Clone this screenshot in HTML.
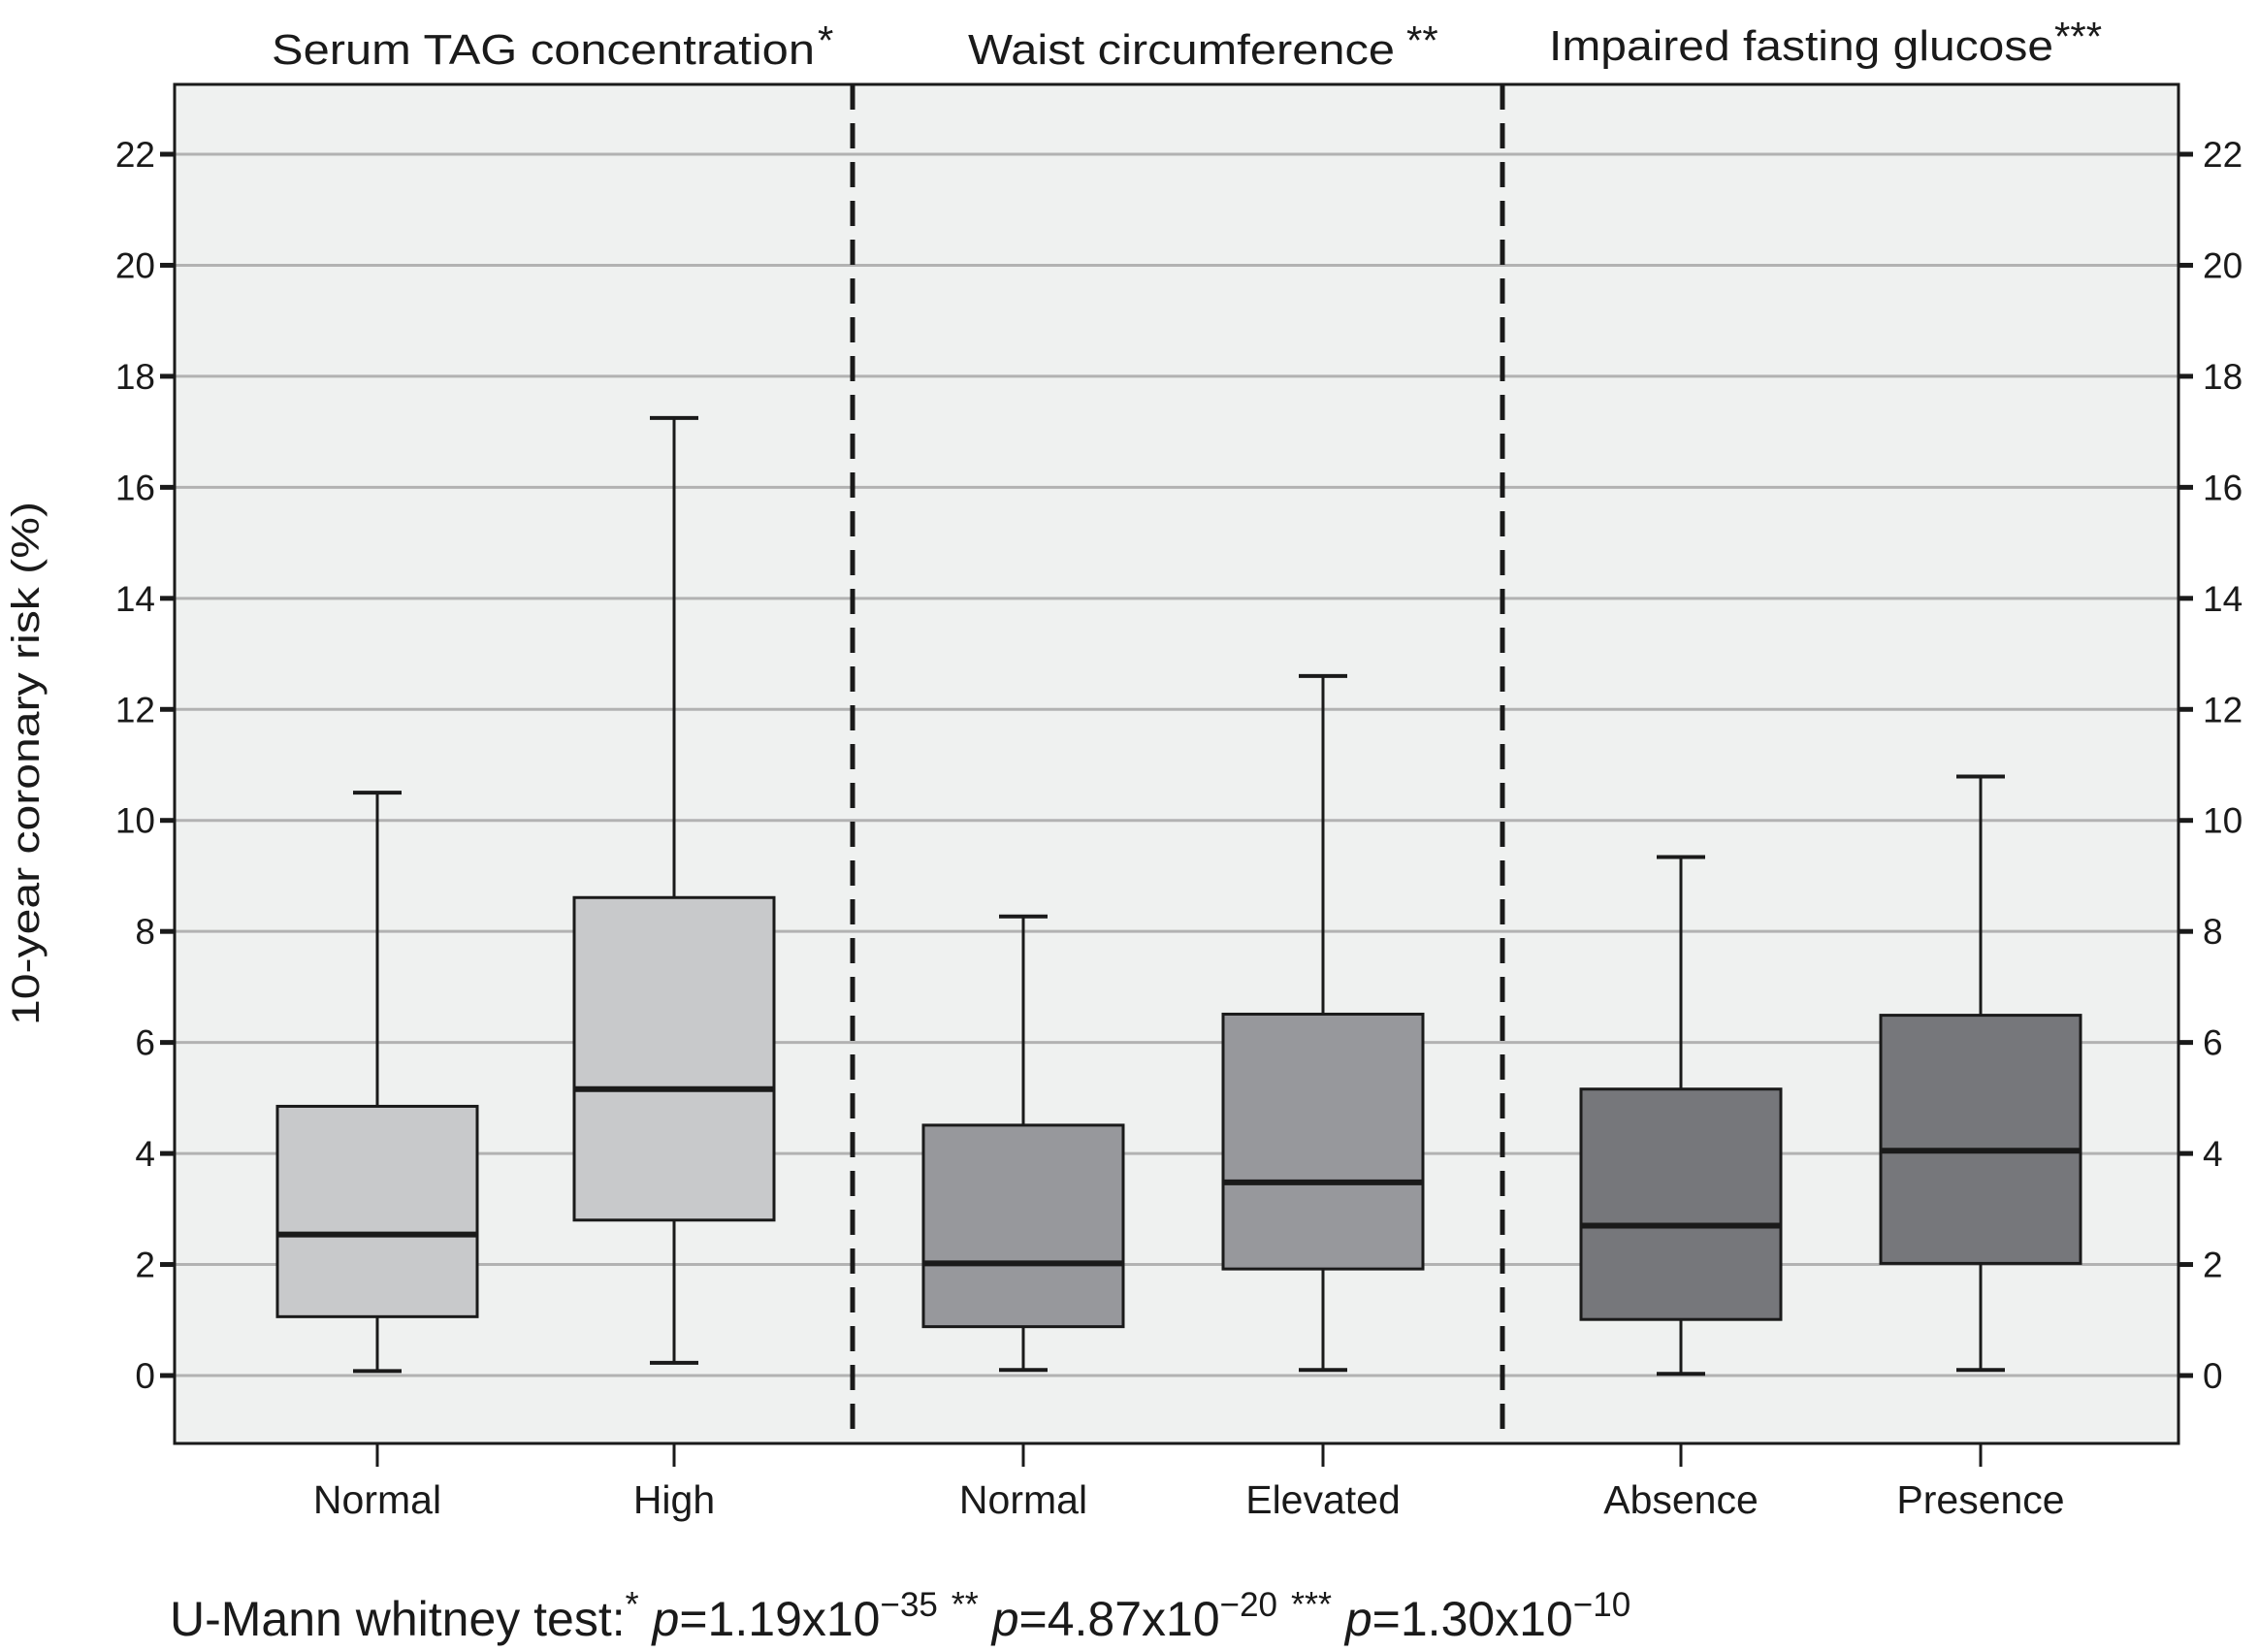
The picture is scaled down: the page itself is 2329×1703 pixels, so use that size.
<!DOCTYPE html>
<html><head><meta charset="utf-8"><style>
html,body{margin:0;padding:0;background:#fff;}
svg{display:block;font-family:"Liberation Sans",Arial,sans-serif;}
</style></head><body>
<svg id="chart" width="2329" height="1703" viewBox="0 0 2329 1703" xmlns="http://www.w3.org/2000/svg">
<rect x="180" y="87" width="2066" height="1401" fill="#eff1f0"/>
<g id="grid"></g>
<g id="boxes"></g>
<g id="axes"></g>
<line x1="879" y1="87" x2="879" y2="1488" stroke="#1a1a1a" stroke-width="5" stroke-dasharray="26,14"/>
<line x1="1549" y1="87" x2="1549" y2="1488" stroke="#1a1a1a" stroke-width="5" stroke-dasharray="26,14"/>
<rect x="180" y="87" width="2066" height="1401" fill="none" stroke="#1a1a1a" stroke-width="3"/>
<text x="280" y="66" font-size="44" fill="#1a1a1a" textLength="560" lengthAdjust="spacingAndGlyphs">Serum TAG concentration</text>
<text x="843" y="56" font-size="42" fill="#1a1a1a">*</text>
<text x="998" y="66" font-size="44" fill="#1a1a1a" textLength="440" lengthAdjust="spacingAndGlyphs">Waist circumference</text>
<text x="1450" y="56" font-size="42" fill="#1a1a1a">**</text>
<text x="1597" y="62" font-size="44" fill="#1a1a1a" textLength="520" lengthAdjust="spacingAndGlyphs">Impaired fasting glucose</text>
<text x="2118" y="52" font-size="42" fill="#1a1a1a">***</text>
<text transform="translate(40,787) rotate(-90)" text-anchor="middle" font-size="40" fill="#1a1a1a" textLength="540" lengthAdjust="spacingAndGlyphs">10-year coronary risk (%)</text>
<text x="175" y="1686" font-size="50" fill="#1a1a1a">U-Mann whitney test:<tspan font-size="36" dy="-20">*</tspan><tspan dy="20" font-style="italic"> p</tspan>=1.19x10<tspan font-size="35" dy="-20">−35</tspan><tspan dy="20"> </tspan><tspan font-size="36" dy="-20">**</tspan><tspan dy="20" font-style="italic"> p</tspan>=4.87x10<tspan font-size="35" dy="-20">−20</tspan><tspan dy="20"> </tspan><tspan font-size="36" dy="-20">***</tspan><tspan dy="20" font-style="italic"> p</tspan>=1.30x10<tspan font-size="35" dy="-20">−10</tspan></text>
</svg>
<script>
const categories = ["Normal","High","Normal","Elevated","Absence","Presence"];
const whiskerMin = [0.08,0.23,0.1,0.1,0.03,0.1];
const q1Values = [1.06,2.8,0.88,1.92,1.01,2.02];
const medianValues = [2.54,5.16,2.02,3.48,2.7,4.05];
const q3Values = [4.85,8.61,4.51,6.51,5.16,6.49];
const whiskerMax = [10.5,17.25,8.27,12.6,9.34,10.79];
const yTicks = [0,2,4,6,8,10,12,14,16,18,20,22];

const NS="http://www.w3.org/2000/svg";
const plotL=180, plotR=2246, y0px=1418, pxPerUnit=(1418-159)/22;
const y = v => y0px - v*pxPerUnit;
const centers=[389,695,1055,1364,1733,2042];
const x = i => centers[i];
const colors=["#c8c9cb","#c8c9cb","#97989c","#97989c","#76777b","#76777b"];
const boxW=206, capW=50;
function mk(tag, attrs, parent){const e=document.createElementNS(NS,tag);for(const k in attrs)e.setAttribute(k,attrs[k]);parent.appendChild(e);return e;}
const grid=document.getElementById('grid'), axes=document.getElementById('axes'), boxes=document.getElementById('boxes');
yTicks.forEach(t=>{
  const g=mk('line',{x1:plotL,x2:plotR,y1:y(t),y2:y(t),stroke:'#b2b2b2','stroke-width':3},grid);
  
  
  const tl=mk('line',{x1:165,x2:180,y1:y(t),y2:y(t),stroke:'#1a1a1a','stroke-width':5},axes);
  
  
  const tr=mk('line',{x1:2246,x2:2261,y1:y(t),y2:y(t),stroke:'#1a1a1a','stroke-width':5},axes);
  
  
  const a=mk('text',{x:160,y:y(t)+13,'text-anchor':'end','font-size':37,fill:'#1a1a1a'},axes);a.textContent=t;
  
  
  const b=mk('text',{x:2271,y:y(t)+13,'font-size':37,fill:'#1a1a1a'},axes);b.textContent=t;
  
  
});
categories.forEach((c,i)=>{
  const cx=x(i);
  const g=mk('g',{},boxes);
  
  
  mk('line',{x1:cx,x2:cx,y1:y(whiskerMax[i]),y2:y(q3Values[i]),stroke:'#1a1a1a','stroke-width':3},g);
  mk('line',{x1:cx,x2:cx,y1:y(q1Values[i]),y2:y(whiskerMin[i]),stroke:'#1a1a1a','stroke-width':3},g);
  mk('line',{x1:cx-capW/2,x2:cx+capW/2,y1:y(whiskerMax[i]),y2:y(whiskerMax[i]),stroke:'#1a1a1a','stroke-width':4},g);
  mk('line',{x1:cx-capW/2,x2:cx+capW/2,y1:y(whiskerMin[i]),y2:y(whiskerMin[i]),stroke:'#1a1a1a','stroke-width':4},g);
  mk('rect',{x:cx-boxW/2,y:y(q3Values[i]),width:boxW,height:y(q1Values[i])-y(q3Values[i]),fill:colors[i],stroke:'#1a1a1a','stroke-width':3},g);
  mk('line',{x1:cx-boxW/2,x2:cx+boxW/2,y1:y(medianValues[i]),y2:y(medianValues[i]),stroke:'#1a1a1a','stroke-width':6},g);
  const tk=mk('line',{x1:cx,x2:cx,y1:1488,y2:1512,stroke:'#1a1a1a','stroke-width':3},axes);
  
  
  const lb=mk('text',{x:cx,y:1560,'text-anchor':'middle','font-size':41,fill:'#1a1a1a'},axes);lb.textContent=c;
  
  
});
</script>
</body></html>
